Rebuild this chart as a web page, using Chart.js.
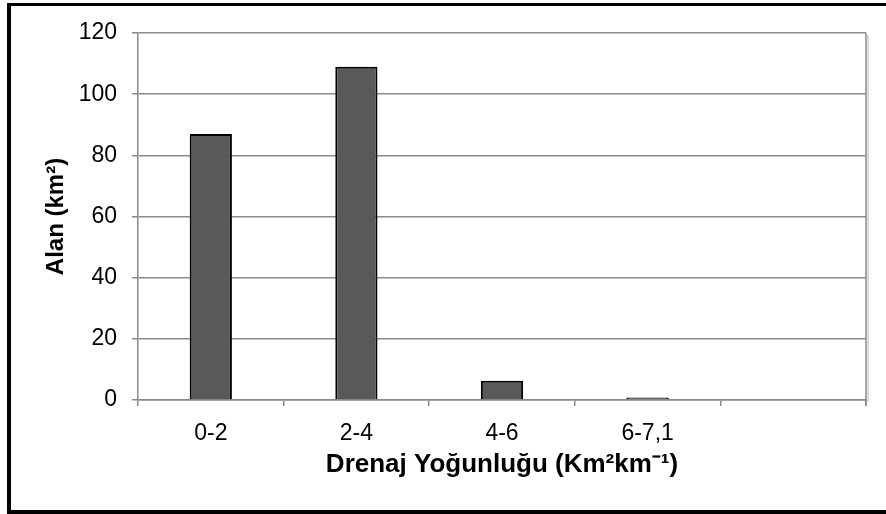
<!DOCTYPE html>
<html>
<head>
<meta charset="utf-8">
<script src="https://cdn.jsdelivr.net/npm/chart.js@4/dist/chart.umd.min.js"></script>
<style>
    html, body { margin: 0; padding: 0; background: #fff; overflow: hidden; }
    #wrap { position: relative; width: 886px; height: 514px; }
    #frame {
        position: absolute; left: 7px; top: 3px; width: 900px; height: 511px;
        box-sizing: border-box;
        border-left: 4px solid #000; border-top: 3px solid #000; border-bottom: 4px solid #000;
        pointer-events: none;
    }
    #myChart { position: absolute; left: 0; top: 0; }
</style>
</head>
<body>
<div id="wrap">
    <div id="frame"></div>
    <canvas id="myChart" width="886" height="514"></canvas>
</div>
<script>
const categories = ['0-2', '2-4', '4-6', '6-7,1', ''];
const alanValues = [87, 109, 6.3, 0.8, null];
const yTicks = [0, 20, 40, 60, 80, 100, 120];

const gridGray = '#8a8a8a';

// right edge of the plot area with its light shadow
const plotEdge = {
    id: 'plotEdge',
    afterDraw(chart) {
        const { ctx, chartArea } = chart;
        ctx.save();
        ctx.strokeStyle = '#d0d0d0';
        ctx.lineWidth = 1.5;
        ctx.beginPath();
        ctx.moveTo(chartArea.right + 2, chartArea.top + 2);
        ctx.lineTo(chartArea.right + 2, chartArea.bottom + 2);
        ctx.stroke();
        ctx.strokeStyle = gridGray;
        ctx.beginPath();
        ctx.moveTo(chartArea.right, chartArea.top);
        ctx.lineTo(chartArea.right, chartArea.bottom + 6);
        ctx.stroke();
        ctx.restore();
    }
};

const ctx = document.getElementById('myChart').getContext('2d');
new Chart(ctx, {
    type: 'bar',
    data: {
        labels: categories,
        datasets: [{
            label: 'Alan',
            data: alanValues,
            backgroundColor: '#595959',
            borderColor: '#000000',
            borderWidth: 2,
            barPercentage: 0.29,
            categoryPercentage: 1
        }]
    },
    options: {
        responsive: false,
        animation: false,
        layout: { padding: { left: 12, top: 33, right: 20, bottom: 10 } },
        plugins: {
            legend: { display: false },
            tooltip: { enabled: false }
        },
        scales: {
            x: {
                offset: true,
                grid: {
                    offset: true,
                    drawOnChartArea: false,
                    drawTicks: true,
                    tickLength: 6,
                    color: gridGray,
                    lineWidth: 1.5
                },
                border: { display: true, color: gridGray, width: 1.5 },
                ticks: {
                    color: '#000',
                    padding: 14,
                    maxRotation: 0,
                    font: { family: 'Liberation Sans, Arial, sans-serif', size: 23 }
                },
                title: {
                    display: true,
                    text: 'Drenaj Yoğunluğu (Km²km⁻¹)',
                    color: '#000',
                    padding: { top: 0, bottom: 24 },
                    font: { family: 'Liberation Sans, Arial, sans-serif', size: 26, weight: 'bold' }
                },
                afterFit(scale) { scale.height = 104; }
            },
            y: {
                min: 0,
                max: 120,
                afterBuildTicks(scale) { scale.ticks = yTicks.map(v => ({ value: v })); },
                grid: {
                    color: gridGray,
                    lineWidth: 1.5,
                    drawTicks: true,
                    tickLength: 6
                },
                border: { display: true, color: gridGray, width: 1.5 },
                ticks: {
                    color: '#000',
                    padding: 15,
                    font: { family: 'Liberation Sans, Arial, sans-serif', size: 23 }
                },
                title: {
                    display: true,
                    text: 'Alan (km²)',
                    color: '#000',
                    padding: { top: 30, bottom: 0 },
                    font: { family: 'Liberation Sans, Arial, sans-serif', size: 24, weight: 'bold' }
                },
                afterFit(scale) { scale.width = 126; }
            }
        }
    },
    plugins: [plotEdge]
});
</script>
</body>
</html>
